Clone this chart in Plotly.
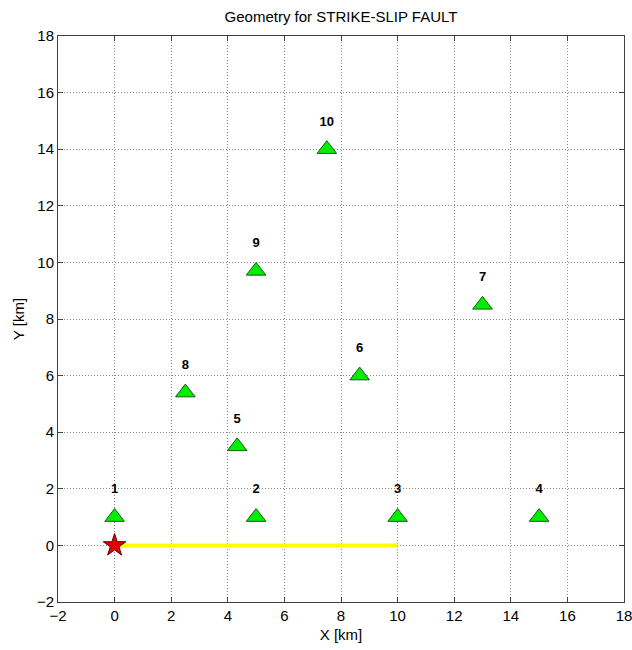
import plotly.graph_objects as go

station_ids = ["1", "2", "3", "4", "5", "6", "7", "8", "9", "10"]
station_x = [0, 5, 10, 15, 4.33, 8.66, 13, 2.5, 5, 7.5]
station_y = [1, 1, 1, 1, 3.5, 6, 8.5, 5.4, 9.7, 14]
fault_x = [0, 10]
fault_y = [0, 0]
epicenter_x = [0]
epicenter_y = [0]
label_offset = 0.95

fig = go.Figure()
fig.add_trace(go.Scatter(x=fault_x, y=fault_y, mode="lines",
                         line=dict(color="#ffff00", width=4), showlegend=False, hoverinfo="skip"))
fig.add_trace(go.Scatter(x=epicenter_x, y=epicenter_y, mode="markers",
                         marker=dict(symbol="star", size=17, color="#e00000",
                                     line=dict(color="#600000", width=1)), showlegend=False))
fig.add_trace(go.Scatter(x=station_x, y=station_y, mode="markers",
                         marker=dict(symbol="triangle-up", size=17, color="#00ee00",
                                     line=dict(color="#1a5a1a", width=1)), showlegend=False))
fig.add_trace(go.Scatter(x=station_x, y=[v + label_offset for v in station_y], mode="text",
                         text=station_ids, textfont=dict(family="Arial", size=13, color="black"),
                         texttemplate="<b>%{text}</b>", showlegend=False, hoverinfo="skip"))

axis_common = dict(range=[-2, 18], dtick=2, showgrid=True, gridcolor="#8a8a8a", griddash="1px,2px",
                   gridwidth=1, zeroline=False, showline=True, linecolor="#404040", linewidth=1,
                   mirror="ticks", ticks="inside", ticklen=5, tickcolor="#404040", automargin=False,
                   ticklabeloverflow="allow",
                   tickfont=dict(family="Arial", size=15, color="black"))
fig.update_xaxes(**axis_common, title=dict(text="X [km]", font=dict(family="Arial", size=15, color="black"), standoff=6))
fig.update_yaxes(**axis_common, title=dict(text="Y [km]", font=dict(family="Arial", size=15, color="black"), standoff=8))

fig.update_layout(
    width=632, height=650,
    margin=dict(l=58, r=8, t=36, b=48),
    plot_bgcolor="white", paper_bgcolor="white",
    title=dict(text="Geometry for STRIKE-SLIP FAULT", xref="paper", x=0.5, xanchor="center",
               yref="container", y=1 - 17 / 650, yanchor="middle",
               font=dict(family="Arial", size=15, color="black")),
)
fig.write_html("out.html", config={"displayModeBar": False},
               post_script="document.body.style.margin='0';document.body.style.overflow='hidden';")
